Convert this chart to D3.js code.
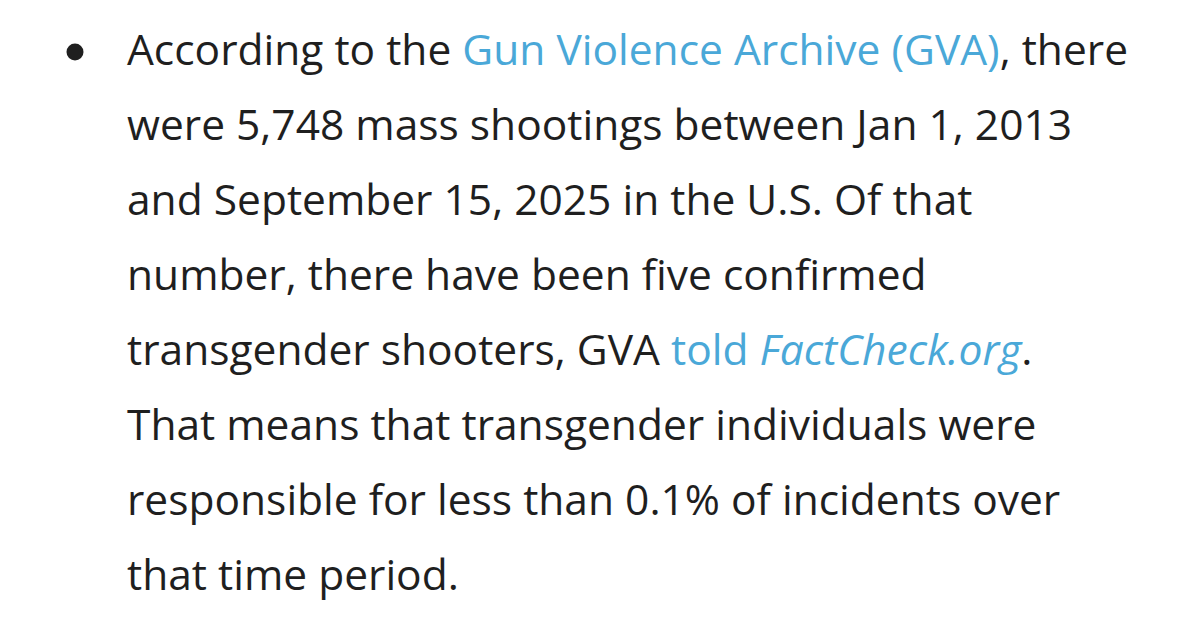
<!DOCTYPE html>
<html><head><meta charset="utf-8">
<script src="https://cdn.jsdelivr.net/npm/d3@7"></script>
<style>body{margin:0;background:#fff}</style>
</head><body>
<svg id="c" width="1200" height="637"></svg>
<script>
// Each line: list of [text, style] segments; style: n=normal, l=link, li=link italic
const lines = [
  [["According to the ","n"],["Gun Violence Archive (GVA)","l"],[", there","n"]],
  [["were 5,748 mass shootings between Jan 1, 2013","n"]],
  [["and September 15, 2025 in the U.S. Of that","n"]],
  [["number, there have been five confirmed","n"]],
  [["transgender shooters, GVA ","n"],["told ","l"],["FactCheck.org","li"],[".","n"]],
  [["That means that transgender individuals were","n"]],
  [["responsible for less than 0.1% of incidents over","n"]],
  [["that time period.","n"]]
];
const lineIdx = d3.range(lines.length);
const svg = d3.select("#c");
const y = d3.scaleLinear().domain([0, lines.length-1]).range([65, 590]);
svg.append("circle").attr("cx",75).attr("cy",52).attr("r",8.5).attr("fill","#1f1f1f");
const t = svg.selectAll("text.l").data(lineIdx).join("text")
  .attr("x",127).attr("y",i=>y(i))
  .attr("font-family","'Open Sans', 'Noto Sans', sans-serif")
  .attr("font-size",42.5).attr("fill","#1f1f1f");
t.selectAll("tspan").data(i=>lines[i]).join("tspan")
  .text(d=>d[0])
  .attr("fill",d=>d[1]==="n"?"#1f1f1f":"#4aa8d8")
  .attr("font-style",d=>d[1]==="li"?"italic":"normal");
</script>
</body></html>
